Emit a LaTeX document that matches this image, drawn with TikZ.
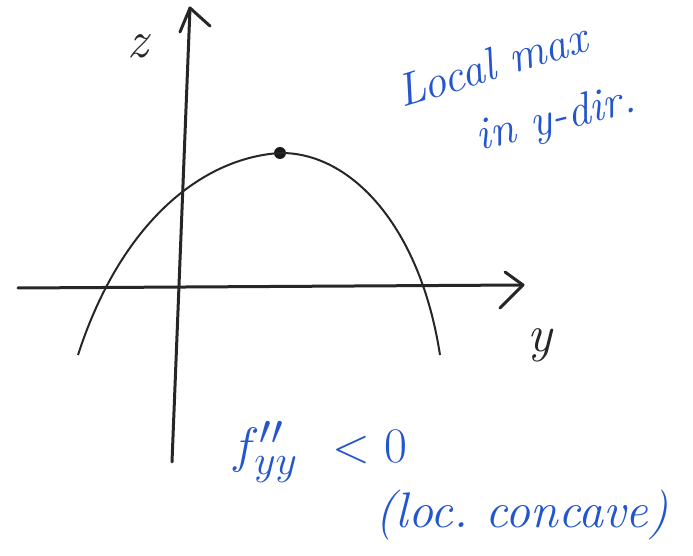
\documentclass[tikz,border=0pt]{standalone}
\begin{document}
\begin{tikzpicture}[x=0.5pt,y=-0.5pt,
  axis/.style={line width=1.5pt,line cap=round,line join=round,black!85},
  curve/.style={line width=1pt,black!85},
  hand/.style={text=handblue,font=\fontsize{23}{27}\selectfont\itshape,inner sep=0pt},
  lab/.style={text=black!85,font=\fontsize{26}{30}\selectfont\itshape,inner sep=0pt}]
\definecolor{handblue}{RGB}{35,85,205}
\useasboundingbox (0,0) rectangle (693,556);
% axes
\coordinate (zb) at (172,462);
\coordinate (zt) at (190,8);
\coordinate (zl) at (180,32);
\coordinate (zr) at (210,26);
\draw[axis] (zb) -- (zt);
\draw[axis] (zl) -- (zt) -- (zr);
\coordinate (yl) at (18,288);
\coordinate (yt) at (523,285);
\coordinate (yu) at (505,272);
\coordinate (yd) at (500,308);
\draw[axis] (yl) -- (yt);
\draw[axis] (yu) -- (yt) -- (yd);
\node[lab] (zlab) at (138,46) {z};
\node[lab] (ylab) at (540,345) {y};
% parabola
\coordinate (pa) at (78,355);
\coordinate (pb) at (440,355);
\node[circle,fill=black!90,inner sep=0pt,minimum size=6pt] (peak) at (280,153) {};
\draw[curve] (pa) .. controls (120,225) and (200,158) .. (peak.center)
  .. controls (350,152) and (420,225) .. (pb);
% blue notes
\node[hand,rotate=17] (t1) at (492,64) {Local max};
\node[hand,rotate=14] (t2) at (556,120) {in y-dir.};
\node[hand,anchor=west] (t3) at (230,452) {\fontsize{30}{34}\selectfont$f''_{yy}\ < 0$};
\node[hand,font=\fontsize{25}{29}\selectfont\itshape] (t4) at (522,515) {(loc.\ concave)};
\end{tikzpicture}
\end{document}
